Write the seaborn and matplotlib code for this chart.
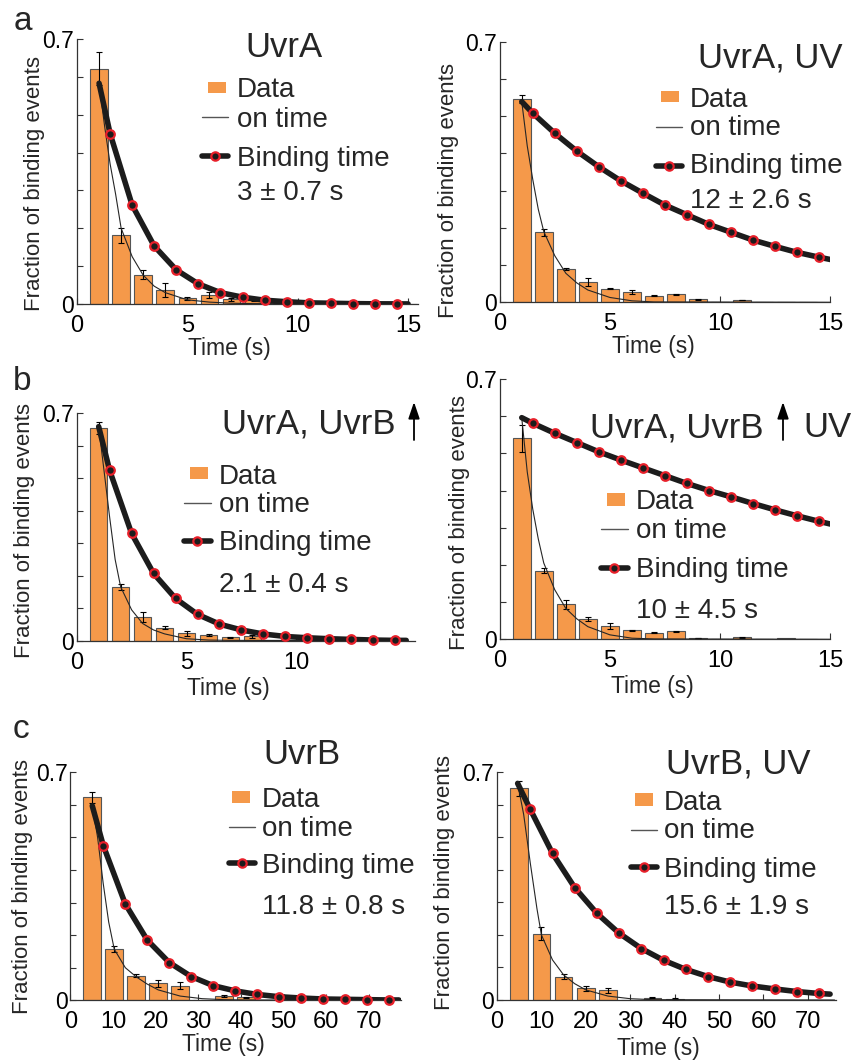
import numpy as np
import seaborn as sns
import matplotlib.pyplot as plt
from matplotlib.lines import Line2D
from matplotlib.patches import Rectangle, FancyArrowPatch

sns.set_style("ticks")
plt.rcParams['font.family'] = ['Liberation Sans', 'DejaVu Sans']

W, H = 854, 1064
ORANGE = '#F5994A'
RED = '#E8202A'
DARK = '#1c1c1c'

# ---- a, left: UvrA
a1_bin_t = [1, 2, 3, 4, 5, 6, 7, 8, 9, 10, 11, 12, 13, 14, 15]
a1_bar = [0.622, 0.182, 0.077, 0.037, 0.015, 0.023, 0.012, 0.010, 0.004, 0.001, 0, 0, 0, 0, 0]
a1_err = [0.043, 0.020, 0.012, 0.018, 0.004, 0.008, 0.003, 0.002, 0.001, 0, 0, 0, 0, 0, 0]
a1_fit_t = [1.0, 1.5, 2.5, 3.5, 4.5, 5.5, 6.5, 7.5, 8.5, 9.5, 10.5, 11.5, 12.5, 13.5, 14.5, 15.0]
a1_fit = [0.583, 0.45, 0.261, 0.153, 0.09, 0.053, 0.030, 0.018, 0.010, 0.006, 0.003, 0.002, 0.001, 0.0005, 0.0003, 0.0002]
a1_on_t = [1, 1.25, 1.5, 1.75, 2, 2.5, 3, 3.5, 4, 5, 6, 7, 8, 15]
a1_on = [0.583, 0.47, 0.37, 0.29, 0.20, 0.125, 0.076, 0.047, 0.030, 0.011, 0.005, 0.002, 0.001, 0]

# ---- a, right: UvrA, UV
a2_bin_t = [1, 2, 3, 4, 5, 6, 7, 8, 9, 10, 11, 12, 13, 14]
a2_bar = [0.546, 0.188, 0.0895, 0.054, 0.037, 0.028, 0.018, 0.021, 0.008, 0.0, 0.006, 0.002, 0.001, 0.002]
a2_err = [0.010, 0.010, 0.002, 0.010, 0.002, 0.005, 0.002, 0.002, 0.002, 0, 0.001, 0, 0, 0]
a2_fit_t = [1.0, 1.5, 2.5, 3.5, 4.5, 5.5, 6.5, 7.5, 8.5, 9.5, 10.5, 11.5, 12.5, 13.5, 14.5, 15.0]
a2_fit = [0.539, 0.508, 0.454, 0.406, 0.364, 0.326, 0.293, 0.261, 0.235, 0.209, 0.188, 0.167, 0.150, 0.134, 0.121, 0.115]
a2_on_t = [1, 1.25, 1.5, 1.75, 2, 2.5, 3, 3.5, 4, 5, 6, 7, 15]
a2_on = [0.539, 0.42, 0.33, 0.25, 0.19, 0.125, 0.078, 0.052, 0.033, 0.013, 0.004, 0.001, 0]

# ---- b, left: UvrA, UvrB up
b1_bin_t = [1, 2, 3, 4, 5, 6, 7, 8, 9, 10, 11, 12, 13, 14]
b1_bar = [0.654, 0.166, 0.074, 0.040, 0.0226, 0.0164, 0.010, 0.013, 0.001, 0, 0, 0, 0, 0]
b1_err = [0.018, 0.010, 0.015, 0.004, 0.008, 0.003, 0.002, 0.005, 0, 0, 0, 0, 0, 0]
b1_fit_t = [1.0, 1.5, 2.5, 3.5, 4.5, 5.5, 6.5, 7.5, 8.5, 9.5, 10.5, 11.5, 12.5, 13.5, 14.5, 15.0]
b1_fit = [0.659, 0.524, 0.33, 0.207, 0.130, 0.081, 0.051, 0.033, 0.0205, 0.013, 0.009, 0.006, 0.004, 0.002, 0.001, 0.001]
b1_on_t = [1, 1.25, 1.5, 1.75, 2, 2.5, 3, 3.5, 4, 5, 6, 7, 15]
b1_on = [0.659, 0.52, 0.38, 0.25, 0.166, 0.095, 0.053, 0.033, 0.021, 0.006, 0.002, 0.001, 0]

# ---- b, right: UvrA, UvrB up, UV
b2_bin_t = [1, 2, 3, 4, 5, 6, 7, 8, 9, 10, 11, 12, 13, 14]
b2_bar = [0.540, 0.185, 0.094, 0.054, 0.037, 0.024, 0.018, 0.021, 0.0036, 0.0, 0.005, 0.002, 0.003, 0.002]
b2_err = [0.035, 0.006, 0.012, 0.006, 0.008, 0.002, 0.001, 0.002, 0.001, 0, 0.001, 0, 0, 0]
b2_fit_t = [1.0, 1.5, 2.5, 3.5, 4.5, 5.5, 6.5, 7.5, 8.5, 9.5, 10.5, 11.5, 12.5, 13.5, 14.5, 15.0]
b2_fit = [0.596, 0.581, 0.554, 0.529, 0.504, 0.482, 0.461, 0.44, 0.419, 0.40, 0.383, 0.365, 0.348, 0.332, 0.317, 0.31]
b2_on_t = [1, 1.25, 1.5, 1.75, 2, 2.5, 3, 3.5, 4, 5, 6, 7, 15]
b2_on = [0.596, 0.45, 0.35, 0.27, 0.205, 0.133, 0.083, 0.055, 0.034, 0.012, 0.003, 0.001, 0]

# ---- c, left: UvrB
c1_bin_t = [5.15, 10.3, 15.45, 20.6, 25.75, 30.9, 36.05, 41.2, 46.35, 51.5, 56.65, 61.8, 66.95, 72.1]
c1_bar = [0.623, 0.157, 0.076, 0.052, 0.045, 0.001, 0.013, 0.009, 0.0005, 0, 0, 0, 0, 0]
c1_err = [0.018, 0.010, 0.005, 0.010, 0.010, 0, 0.003, 0.002, 0, 0, 0, 0, 0, 0]
c1_fit_t = [5.15, 7.73, 12.88, 18.03, 23.18, 28.33, 33.48, 38.63, 43.78, 48.93, 54.08, 59.23, 64.38, 69.53, 74.68, 77.0]
c1_fit = [0.597, 0.475, 0.296, 0.185, 0.116, 0.073, 0.045, 0.029, 0.018, 0.011, 0.007, 0.004, 0.003, 0.002, 0.001, 0.001]
c1_on_t = [5.15, 6.4, 7.7, 9.0, 10.3, 12.9, 15.45, 18.0, 20.6, 25.75, 30.9, 36.0, 41.0, 77.0]
c1_on = [0.597, 0.50, 0.36, 0.24, 0.157, 0.10, 0.072, 0.05, 0.032, 0.013, 0.005, 0.002, 0.001, 0]

# ---- c, right: UvrB, UV
c2_bin_t = [5, 10, 15, 20, 25, 30, 35, 40, 45, 50, 55, 60, 65, 70]
c2_bar = [0.650, 0.203, 0.072, 0.036, 0.030, 0.0005, 0.007, 0.004, 0.001, 0, 0, 0, 0, 0]
c2_err = [0.023, 0.020, 0.008, 0.008, 0.007, 0, 0.001, 0.001, 0, 0, 0, 0, 0, 0]
c2_fit_t = [4.65, 7.5, 12.5, 17.5, 22.5, 27.5, 32.5, 37.5, 42.5, 47.5, 52.5, 57.5, 62.5, 67.5, 72.5, 75.0]
c2_fit = [0.665, 0.585, 0.45, 0.345, 0.266, 0.205, 0.158, 0.122, 0.094, 0.072, 0.055, 0.043, 0.034, 0.026, 0.020, 0.018]
c2_on_t = [4.65, 6, 7.5, 9, 10, 12.5, 15, 17.5, 20, 25, 30, 35, 76]
c2_on = [0.665, 0.57, 0.42, 0.28, 0.20, 0.123, 0.077, 0.05, 0.031, 0.012, 0.004, 0.001, 0]

titles = ['UvrA', 'UvrA, UV', 'UvrA, UvrB', 'UvrA, UvrB', 'UvrB', 'UvrB, UV']
lifetimes = ['3 ± 0.7 s', '12 ± 2.6 s', '2.1 ± 0.4 s', '10 ± 4.5 s', '11.8 ± 0.8 s', '15.6 ± 1.9 s']

series = [
    (a1_bin_t, a1_bar, a1_err, a1_fit_t, a1_fit, a1_on_t, a1_on),
    (a2_bin_t, a2_bar, a2_err, a2_fit_t, a2_fit, a2_on_t, a2_on),
    (b1_bin_t, b1_bar, b1_err, b1_fit_t, b1_fit, b1_on_t, b1_on),
    (b2_bin_t, b2_bar, b2_err, b2_fit_t, b2_fit, b2_on_t, b2_on),
    (c1_bin_t, c1_bar, c1_err, c1_fit_t, c1_fit, c1_on_t, c1_on),
    (c2_bin_t, c2_bar, c2_err, c2_fit_t, c2_fit, c2_on_t, c2_on),
]

# layout in pixels: axes box (l, t, r, b), xlim max, xticks, title pos,
# legend swatch, legend line x, line ys, text x, baselines, ylabel center, xlabel center
layout = [
    dict(box=(77, 39, 418, 304), xmax=15.45, xt=[0, 5, 10, 15], title=(245, 57),
         sw=(208, 82, 226, 93), lx=(202, 228), ly=(117, 156), tx=237, bl=(97, 127, 166, 200),
         yl=(35, 183), xl=(229, 348)),
    dict(box=(499.7, 41.7, 830.3, 302.3), xmax=15, xt=[0, 5, 10, 15], title=(698, 67),
         sw=(661, 91, 679, 102), lx=(656, 682), ly=(127, 166), tx=690, bl=(107, 135, 173, 208),
         yl=(449, 190), xl=(653, 346)),
    dict(box=(76.7, 413.3, 415, 640.7), xmax=15.4, xt=[0, 5, 10], title=(222, 434),
         sw=(190, 467, 208, 479), lx=(184, 211), ly=(503, 541), tx=219, bl=(484, 512, 550, 592),
         yl=(25, 530), xl=(228, 688)),
    dict(box=(499.7, 379, 830.3, 639.3), xmax=15, xt=[0, 5, 10, 15], title=(590, 437),
         sw=(607, 493, 625, 506), lx=(601, 628), ly=(529, 568), tx=636, bl=(509, 538, 577, 618),
         yl=(459, 522), xl=(652, 686)),
    dict(box=(70.3, 772.3, 401, 1000.3), xmax=77.5, xt=list(range(0, 71, 10)), title=(263, 764),
         sw=(232, 791, 250, 803), lx=(229, 255), ly=(827, 863), tx=262, bl=(807, 836, 873, 914),
         yl=(23, 887), xl=(223, 1044)),
    dict(box=(497, 772, 836.3, 1000), xmax=76.4, xt=list(range(0, 71, 10)), title=(666, 773),
         sw=(635, 793, 653, 806), lx=(631, 657), ly=(830, 867), tx=664, bl=(810, 838, 877, 914),
         yl=(445, 883), xl=(658, 1049)),
]


def fx(x):
    return x / W


def fy(y):
    return 1 - y / H


fig = plt.figure(figsize=(W / 100, H / 100), dpi=100)
tf = fig.transFigure

for i, ((bt, bh, be, ft, fv, ot, ov), L) in enumerate(zip(series, layout)):
    l, t, r, b = L['box']
    ax = fig.add_axes([fx(l), fy(b), (r - l) / W, (b - t) / H])

    sns.barplot(x=bt, y=bh, native_scale=True, width=0.8, color=ORANGE, saturation=1,
                edgecolor='#555555', linewidth=0.8, ax=ax, zorder=2)
    bt_a, bh_a, be_a = np.array(bt), np.array(bh), np.array(be)
    m = be_a > 0
    ax.errorbar(bt_a[m], bh_a[m], yerr=be_a[m], fmt='none', ecolor='black',
                elinewidth=0.8, capsize=2.5, capthick=0.8, zorder=3)
    sns.lineplot(x=ot, y=ov, sort=False, color='#262626', lw=0.8, ax=ax, zorder=4)
    sns.lineplot(x=ft, y=fv, sort=False, color=DARK, lw=4, ax=ax, zorder=5)
    sns.scatterplot(x=ft[1:-1], y=fv[1:-1], s=38, color=DARK, edgecolor=RED,
                    linewidth=1.6, ax=ax, zorder=6, clip_on=False)

    ax.set_xlim(0, L['xmax'])
    ax.set_ylim(0, 0.7)
    ax.set_xticks(L['xt'])
    ax.set_xticklabels([str(v) for v in L['xt']])
    ax.set_yticks(np.round(np.arange(0, 0.71, 0.1), 1))
    ax.set_yticklabels(['0', '', '', '', '', '', '', '0.7'])
    ax.tick_params(direction='in', length=4, width=0.8, colors='#333333', labelcolor='black')
    ax.tick_params(axis='x', pad=8, labelsize=17)
    ax.tick_params(axis='y', pad=2, labelsize=16.5)
    sns.despine(ax=ax)
    for s in ['left', 'bottom']:
        ax.spines[s].set_linewidth(0.9)
        ax.spines[s].set_color('#333333')

    ax.set_ylabel('Fraction of binding events', fontsize=16, va='center')
    ax.yaxis.set_label_coords(fx(L['yl'][0]), fy(L['yl'][1]), transform=tf)
    ax.set_xlabel('Time (s)', fontsize=16.5, va='center')
    ax.xaxis.set_label_coords(fx(L['xl'][0]), fy(L['xl'][1]), transform=tf)

    # title
    fig.text(fx(L['title'][0]), fy(L['title'][1]), titles[i], fontsize=25,
             ha='left', va='baseline')

    # hand-built legend
    x0, y0, x1, y1 = L['sw']
    fig.add_artist(Rectangle((fx(x0), fy(y1)), (x1 - x0) / W, (y1 - y0) / H,
                             transform=tf, facecolor=ORANGE, edgecolor='none'))
    lx0, lx1 = L['lx']
    fig.add_artist(Line2D([fx(lx0), fx(lx1)], [fy(L['ly'][0])] * 2, transform=tf,
                          color='#555555', lw=1.0))
    fig.add_artist(Line2D([fx(lx0), fx(lx1)], [fy(L['ly'][1])] * 2, transform=tf,
                          color=DARK, lw=4))
    fig.add_artist(Line2D([fx((lx0 + lx1) / 2)], [fy(L['ly'][1])], transform=tf,
                          marker='o', markersize=6, markerfacecolor=DARK,
                          markeredgecolor=RED, markeredgewidth=1.6, lw=0))
    for txt, base in zip(['Data', 'on time', 'Binding time', lifetimes[i]], L['bl']):
        fig.text(fx(L['tx']), fy(base), txt, fontsize=20, ha='left', va='baseline')

# up arrows and the extra "UV" in panel b
for arrow_x in [414, 783]:
    fig.add_artist(FancyArrowPatch(
        (fx(arrow_x), fy(440)), (fx(arrow_x), fy(402)), transform=tf,
        arrowstyle='-|>,head_length=0.5,head_width=0.17', mutation_scale=20,
        color='black', lw=1.3, shrinkA=0, shrinkB=0))
fig.text(fx(803), fy(437), 'UV', fontsize=25, ha='left', va='baseline')

# panel letters
for letter, (x, y) in zip(['a', 'b', 'c'], [(14, 30), (13, 390), (13, 738)]):
    fig.text(fx(x), fy(y), letter, fontsize=24, ha='left', va='baseline')

fig.savefig('out.png', dpi=100)
